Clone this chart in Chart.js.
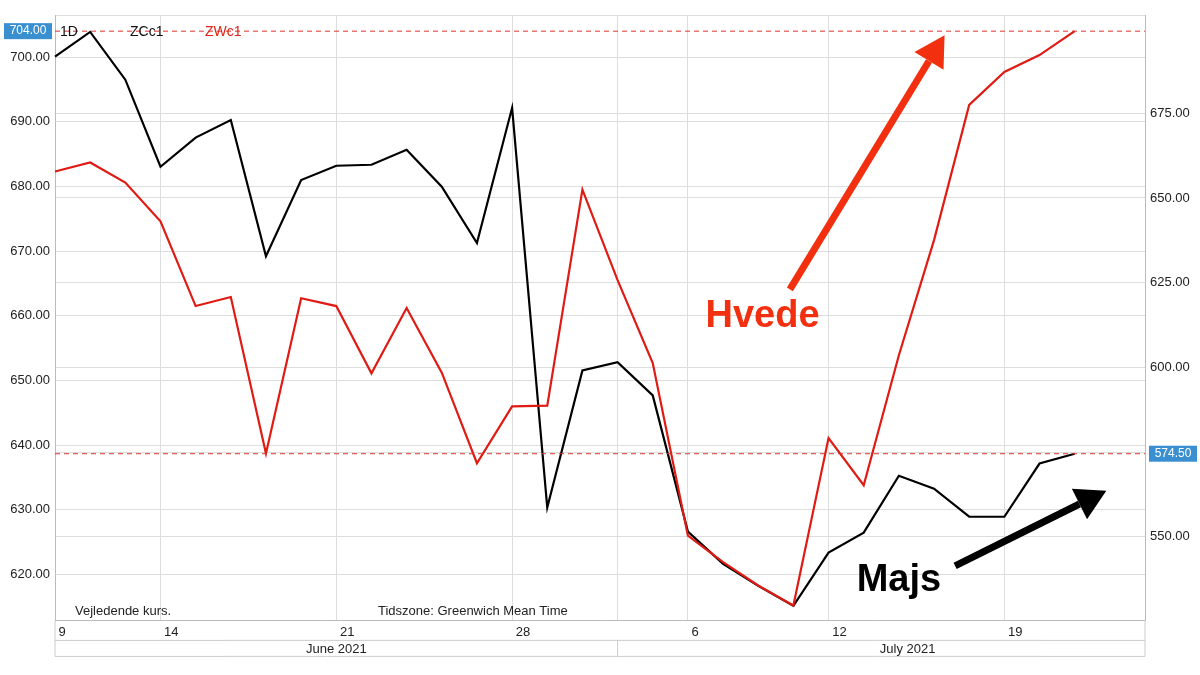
<!DOCTYPE html>
<html>
<head>
<meta charset="utf-8">
<script src="https://cdn.jsdelivr.net/npm/chart.js@4"></script>
<style>
  body { margin: 0; background: #fff; }
</style>
</head>
<body>
<canvas id="chart" width="1200" height="675"></canvas>
<script>
// trading days Jun 9 - Jul 21 2021, plus two empty slots at the end
const days = ['9','10','11','14','15','16','17','18','21','22','23','24','25','28','29','30',
              '1','2','6','7','8','9','12','13','14','15','16','19','20','21','',''];
const shownTicks = [0, 3, 8, 13, 18, 22, 27];
const julyStart = 16;

// ZCc1 (majs), right axis
const cornValues = [691.7, 699.0, 684.9, 659.2, 667.8, 673.0, 632.8, 655.3, 659.5, 659.8,
                    664.2, 653.3, 636.7, 676.6, 558.6, 599.1, 601.5, 591.7, 551.5, 542.0,
                    535.5, 529.6, 545.3, 551.2, 568.0, 564.2, 555.9, 555.9, 571.6, 574.5];
// ZWc1 (hvede), left axis
const wheatValues = [682.3, 683.7, 680.6, 674.6, 661.5, 662.9, 638.7, 662.7, 661.5, 651.1,
                     661.2, 651.2, 637.2, 646.0, 646.1, 679.5, 665.5, 652.7, 626.0, 621.9,
                     618.3, 615.2, 641.1, 633.8, 653.9, 671.7, 692.6, 697.7, 700.3, 704.0];

const leftLast = 704.00;
const rightLast = 574.50;

// draws dashed price lines, value boxes, labels, arrows and the month row
const decorations = {
  id: 'decorations',
  afterDraw(chart) {
    const ctx = chart.ctx;
    const x = chart.scales.x, yl = chart.scales.yl, yr = chart.scales.yr;
    const area = chart.chartArea;
    ctx.save();

    // dashed last-price lines
    ctx.strokeStyle = '#d9342b';
    ctx.lineWidth = 1;
    ctx.setLineDash([5, 4]);
    [yl.getPixelForValue(leftLast), yr.getPixelForValue(rightLast)].forEach(py => {
      ctx.beginPath(); ctx.moveTo(area.left, py); ctx.lineTo(area.right, py); ctx.stroke();
    });
    ctx.setLineDash([]);

    // value boxes
    ctx.font = '12px "Liberation Sans", Arial';
    ctx.textBaseline = 'middle';
    ctx.textAlign = 'center';
    let py = yl.getPixelForValue(leftLast);
    ctx.fillStyle = '#3a8fd0'; ctx.fillRect(4, py - 8, 48, 16);
    ctx.fillStyle = '#fff'; ctx.fillText(leftLast.toFixed(2), 28, py);
    py = yr.getPixelForValue(rightLast);
    ctx.fillStyle = '#3a8fd0'; ctx.fillRect(area.right + 4, py - 8, 48, 16);
    ctx.fillStyle = '#fff'; ctx.fillText(rightLast.toFixed(2), area.right + 28, py);

    // legend text top-left
    ctx.font = '14px "Liberation Sans", Arial';
    ctx.textAlign = 'left';
    ctx.fillStyle = '#111'; ctx.fillText('1D', 60, 32);
    ctx.fillText('ZCc1', 130, 32);
    ctx.fillStyle = '#e02418'; ctx.fillText('ZWc1', 205, 32);

    // notes inside plot
    ctx.font = '13px "Liberation Sans", Arial';
    ctx.fillStyle = '#222';
    ctx.fillText('Vejledende kurs.', 75, area.bottom - 9);
    ctx.fillText('Tidszone: Greenwich Mean Time', 378, area.bottom - 9);

    // arrows
    function arrow(x1, y1, x2, y2, color) {
      const a = Math.atan2(y2 - y1, x2 - x1);
      const head = 30, w = 17;
      const bx = x2 - head * Math.cos(a), by = y2 - head * Math.sin(a);
      ctx.strokeStyle = color; ctx.fillStyle = color;
      ctx.lineWidth = 7;
      ctx.beginPath(); ctx.moveTo(x1, y1); ctx.lineTo(bx, by); ctx.stroke();
      ctx.beginPath();
      ctx.moveTo(x2, y2);
      ctx.lineTo(bx + w * Math.sin(a), by - w * Math.cos(a));
      ctx.lineTo(bx - w * Math.sin(a), by + w * Math.cos(a));
      ctx.closePath(); ctx.fill();
    }
    const px = i => x.getPixelForValue(i);
    arrow(px(20.9), yr.getPixelForValue(623), px(25.3), yr.getPixelForValue(698), '#f2300f');
    arrow(px(25.6), yr.getPixelForValue(541.4), px(29.9), yr.getPixelForValue(563.6), '#000');

    ctx.font = 'bold 38px "Liberation Sans", Arial';
    ctx.textAlign = 'left';
    ctx.fillStyle = '#f2300f'; ctx.fillText('Hvede', px(18.5), yr.getPixelForValue(615));
    ctx.fillStyle = '#000'; ctx.fillText('Majs', px(22.8), yr.getPixelForValue(537));

    // month row
    const top = area.bottom + 20, bottom = top + 16;
    ctx.strokeStyle = '#ccc'; ctx.lineWidth = 1;
    ctx.beginPath();
    ctx.moveTo(area.left, top); ctx.lineTo(area.right, top);
    ctx.moveTo(area.left, bottom); ctx.lineTo(area.right, bottom);
    ctx.moveTo(area.left, area.bottom); ctx.lineTo(area.left, bottom);
    ctx.moveTo(area.right, area.bottom); ctx.lineTo(area.right, bottom);
    const jx = px(julyStart);
    ctx.moveTo(jx, top); ctx.lineTo(jx, bottom);
    ctx.stroke();
    ctx.font = '13px "Liberation Sans", Arial';
    ctx.fillStyle = '#222'; ctx.textAlign = 'center';
    ctx.fillText('June 2021', (area.left + jx) / 2, top + 9);
    ctx.fillText('July 2021', jx + (area.right - jx) * 0.55, top + 9);
    ctx.restore();
  }
};

new Chart(document.getElementById('chart'), {
  type: 'line',
  data: {
    labels: days,
    datasets: [
      { label: 'ZWc1', data: wheatValues, yAxisID: 'yl', borderColor: '#e01b14',
        borderWidth: 2.2, pointRadius: 0, tension: 0 },
      { label: 'ZCc1', data: cornValues, yAxisID: 'yr', borderColor: '#000',
        borderWidth: 2.2, pointRadius: 0, tension: 0 }
    ]
  },
  options: {
    responsive: false,
    animation: false,
    layout: { padding: { top: 15, bottom: 31, left: 0, right: 0 } },
    plugins: { legend: { display: false }, tooltip: { enabled: false } },
    scales: {
      x: {
        offset: false,
        grid: {
          color: ctx => shownTicks.includes(ctx.index) || ctx.index === julyStart ? '#ddd' : 'rgba(0,0,0,0)',
          drawTicks: false
        },
        border: { color: '#bbb' },
        ticks: {
          autoSkip: false, maxRotation: 0, align: 'start', padding: 4,
          color: '#222', font: { size: 13, family: '"Liberation Sans", Arial' },
          callback: (v, i) => shownTicks.includes(i) ? ' ' + days[i] : ''
        }
      },
      yl: {
        position: 'left', min: 612.9, max: 706.5,
        afterFit: s => { s.width = 55; },
        grid: { color: '#ddd', drawTicks: false },
        border: { color: '#bbb' },
        ticks: { stepSize: 10, padding: 5, color: '#222', font: { size: 13, family: '"Liberation Sans", Arial' },
                 callback: v => v >= 620 && v <= 700 ? v.toFixed(2) : '' }
      },
      yr: {
        position: 'right', min: 525.3, max: 704,
        afterFit: s => { s.width = 55; },
        grid: { color: '#ddd', drawTicks: false },
        border: { color: '#bbb' },
        ticks: { stepSize: 25, padding: 5, color: '#222', font: { size: 13, family: '"Liberation Sans", Arial' },
                 callback: v => v >= 550 && v <= 675 ? v.toFixed(2) : '' }
      }
    }
  },
  plugins: [decorations]
});
</script>
</body>
</html>
